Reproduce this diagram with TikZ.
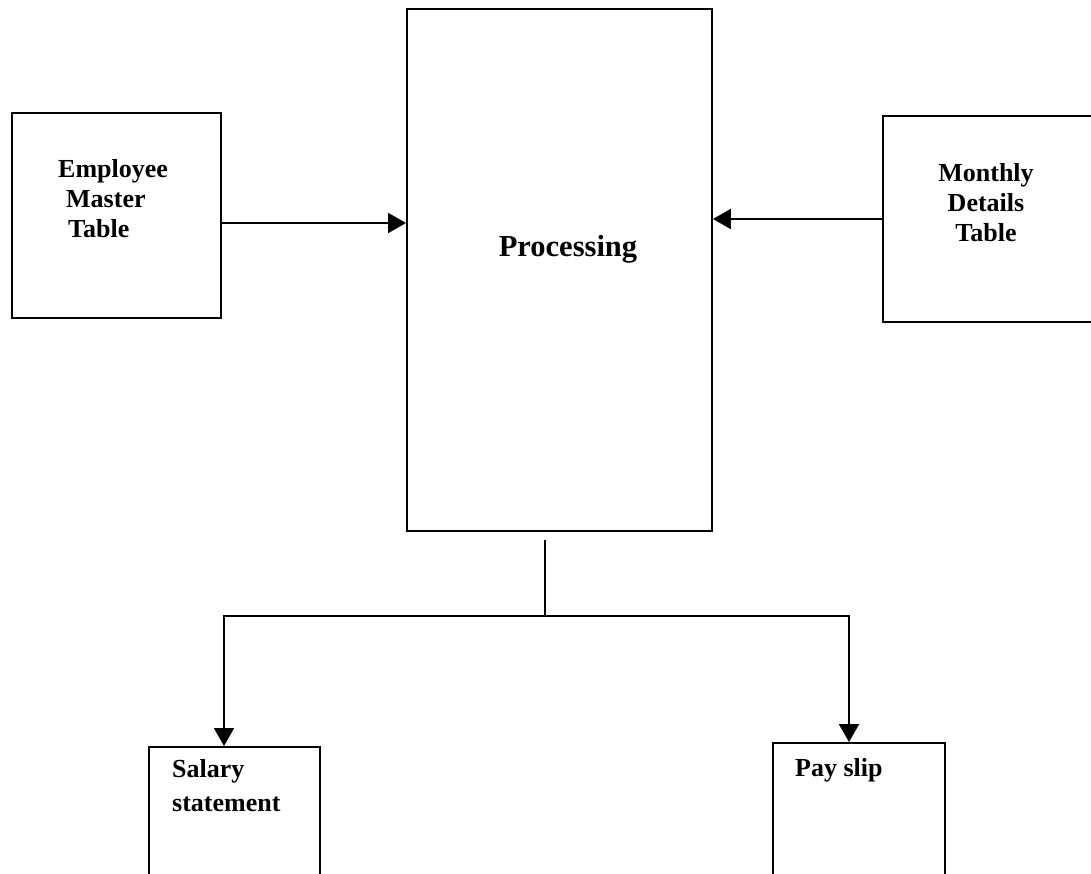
\documentclass[tikz,border=0pt]{standalone}
\usepackage{fontspec}
\setmainfont{Liberation Serif}
\usetikzlibrary{arrows.meta,calc}
\begin{document}
\begin{tikzpicture}[x=1pt,y=-1pt,
  box/.style={draw,line width=1.9pt,inner sep=0pt},
  lbl/.style={font=\fontsize{26}{30}\selectfont\bfseries,inner sep=0pt},
  biglbl/.style={font=\fontsize{30.5}{35}\selectfont\bfseries,inner sep=0pt},
  wire/.style={line width=1.9pt},
  flow/.style={wire,-{Triangle[length=18pt,width=20pt]}}]
\clip (0,0) rectangle (1091,874);
\fill[white] (0,0) rectangle (1091,874);

% data stores and the processing step
\node[box,minimum width=209pt,minimum height=205pt] (emp) at (116.5,215.5) {};
\node[box,minimum width=305pt,minimum height=522pt] (proc) at (559.5,270) {};
\node[box,minimum width=227pt,minimum height=206pt] (mon) at (996.5,219) {};
\node[box,minimum width=171pt,minimum height=163pt] (sal) at (234.5,828.5) {};
\node[box,minimum width=172pt,minimum height=167pt] (pay) at (859,826.5) {};

% labels (base anchor of a multi-line label sits on its last line)
\node[lbl,anchor=base west,align=left] (empt) at (58,238)
  {Employee\\\hspace*{8pt}Master\\\hspace*{10pt}Table};
\node[biglbl,anchor=base] (proct) at (568,257) {Processing};
\node[lbl,anchor=base,align=center] (mont) at (986,242) {Monthly\\Details\\Table};
\node[lbl,anchor=base west,align=left] (salt) at (172,811) {Salary\\[4pt]statement};
\node[lbl,anchor=base west] (payt) at (795,776) {Pay slip};

% inputs
\coordinate (empout) at ([yshift=-7.5pt]emp.east);
\draw[flow] (empout) -- (empout -| proc.west);
\draw[flow] (mon.west) -- (mon.west -| proc.east);

% outputs
\coordinate (split) at ([xshift=-14.5pt,yshift=-8pt]proc.south);
\coordinate (junc) at ([yshift=-76pt]split);
\draw[wire] (split) -- (junc);
\draw[flow] (junc) -| ([xshift=-10.5pt]sal.north);
\draw[flow] (junc) -| ([xshift=-10pt]pay.north);
\end{tikzpicture}
\end{document}
